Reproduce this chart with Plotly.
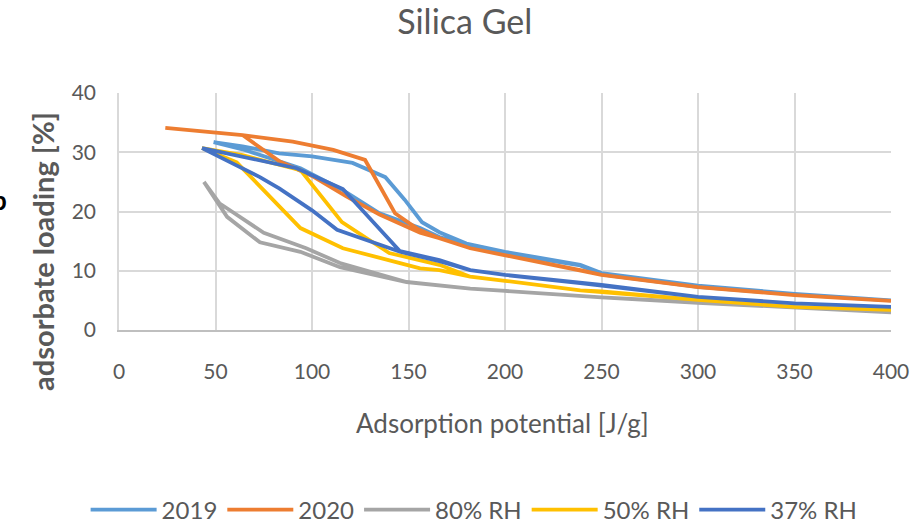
import plotly.graph_objects as go

# ---- data (adsorption potential [J/g], adsorbate loading [%]) ----
s2019_x = [49, 64, 83, 100, 121, 138, 148, 157, 166, 180, 200, 239, 250, 300, 350, 400,
           400, 350, 300, 250, 239, 200, 180, 166, 156, 135, 116, 94, 64, 49]
s2019_y = [31.7, 31.0, 29.8, 29.3, 28.2, 25.8, 22.0, 18.2, 16.5, 14.6, 13.2, 11.0, 9.6, 7.5, 6.1, 5.0,
           5.0, 6.0, 7.3, 9.4, 10.9, 12.9, 14.4, 15.7, 17.2, 19.7, 23.6, 27.3, 30.5, 31.7]

s2020_x = [24, 64, 90, 111, 127.5, 143, 155, 166, 182, 200, 239, 250, 300, 350, 400,
           400, 350, 300, 250, 239, 200, 182, 166, 156, 135, 118, 100, 83, 64]
s2020_y = [34.1, 32.9, 31.8, 30.4, 28.7, 19.7, 17.0, 15.5, 13.8, 12.6, 10.1, 9.3, 7.25, 5.9, 4.9,
           4.9, 5.9, 7.25, 9.3, 10.1, 12.6, 13.8, 15.5, 16.4, 19.5, 22.5, 26.0, 28.5, 32.9]

rh80_x = [44, 52, 75, 97, 114.5, 135, 149, 182, 200, 250, 300, 350, 400,
          400, 350, 300, 250, 200, 182, 149, 135, 114.5, 94, 73, 56, 44]
rh80_y = [25.0, 21.4, 16.4, 13.8, 11.3, 9.3, 8.1, 7.0, 6.6, 5.5, 4.6, 3.8, 3.0,
          3.0, 3.8, 4.6, 5.5, 6.6, 7.0, 8.1, 9.1, 10.6, 13.2, 14.8, 19.1, 25.0]

rh50_x = [43, 64, 90, 94, 115.5, 140, 166, 182, 200, 239, 250, 300, 350, 400,
          400, 350, 300, 250, 239, 200, 182, 166, 156, 145.6, 116, 94, 75, 61, 43]
rh50_y = [30.7, 29.5, 27.3, 27.0, 18.2, 13.0, 11.0, 9.0, 8.3, 6.7, 6.5, 5.1, 3.9, 3.4,
          3.4, 3.9, 5.1, 6.5, 6.7, 8.3, 9.0, 10.1, 10.4, 11.3, 13.8, 17.2, 23.6, 28.3, 30.7]

rh37_x = [43, 64, 83, 92, 116, 145.6, 166, 182, 200, 239, 250, 300, 350, 400,
          400, 350, 300, 250, 239, 200, 182, 166, 145.6, 113, 100, 83, 73, 43]
rh37_y = [30.7, 29.2, 27.8, 27.3, 23.8, 13.3, 11.8, 10.1, 9.3, 7.9, 7.6, 5.6, 4.5, 3.9,
          3.9, 4.5, 5.6, 7.6, 7.9, 9.3, 10.1, 11.6, 13.2, 16.9, 20.2, 23.9, 25.8, 30.7]

series_names = ["2019", "2020", "80% RH", "50% RH", "37% RH"]
series_x = [s2019_x, s2020_x, rh80_x, rh50_x, rh37_x]
series_y = [s2019_y, s2020_y, rh80_y, rh50_y, rh37_y]
colors = ["#5B9BD5", "#ED7D31", "#A5A5A5", "#FFC000", "#4472C4"]

x_ticks = [0, 50, 100, 150, 200, 250, 300, 350, 400]
y_ticks = [0, 10, 20, 30, 40]

FONT = "Lato"
GREY = "#595959"

fig = go.Figure()
for name, xs, ys, c in zip(series_names, series_x, series_y, colors):
    fig.add_trace(go.Scatter(x=xs, y=ys, mode="lines", name=name,
                             line=dict(color=c, width=3.8)))

fig.update_layout(
    width=913, height=526,
    margin=dict(l=119, r=22, t=93, b=196, autoexpand=False),
    paper_bgcolor="white", plot_bgcolor="white",
    font=dict(family=FONT, color=GREY),
    title=dict(text="Silica Gel", x=0.509, xanchor="center", y=0.958, yanchor="middle",
               font=dict(size=34, color=GREY, family=FONT)),
    showlegend=True,
    legend=dict(orientation="h", x=0.46, xanchor="center", y=-0.76, yanchor="middle",
                font=dict(size=24, color=GREY, family=FONT), itemwidth=66,
                tracegroupgap=0),
)
fig.update_xaxes(range=[0, 400], tickvals=x_ticks, ticktext=[str(v) for v in x_ticks],
                 showgrid=True, gridcolor="#D9D9D9", gridwidth=1.5,
                 showline=True, linecolor="#BFBFBF", linewidth=1.5,
                 zeroline=False, ticks="", ticklabelstandoff=22,
                 tickfont=dict(size=21, color=GREY, family=FONT), automargin=False)
fig.update_yaxes(range=[0, 40], tickvals=y_ticks, ticktext=[str(v) for v in y_ticks],
                 showgrid=True, gridcolor="#D9D9D9", gridwidth=1.5,
                 showline=True, linecolor="#D9D9D9", linewidth=1.5,
                 zeroline=False, ticks="", ticklabelstandoff=17,
                 tickfont=dict(size=21, color=GREY, family=FONT), automargin=False)
fig.add_annotation(text="Adsorption potential [J/g]",
                   xref="paper", yref="paper", x=0.497, y=-0.392,
                   xanchor="center", yanchor="middle", showarrow=False,
                   font=dict(size=26, color=GREY, family=FONT))
fig.add_annotation(text="<b>adsorbate loading [%]</b>", textangle=-90,
                   xref="paper", yref="paper", x=-0.1, y=0.333,
                   xanchor="center", yanchor="middle", showarrow=False,
                   font=dict(size=29, color=GREY, family=FONT))
fig.add_annotation(text="<b>b</b>", xref="paper", yref="paper", x=-0.1425, y=0.55,
                   xanchor="right", yanchor="middle", showarrow=False,
                   font=dict(size=26, color="black", family=FONT))

fig.write_html("out.html")
